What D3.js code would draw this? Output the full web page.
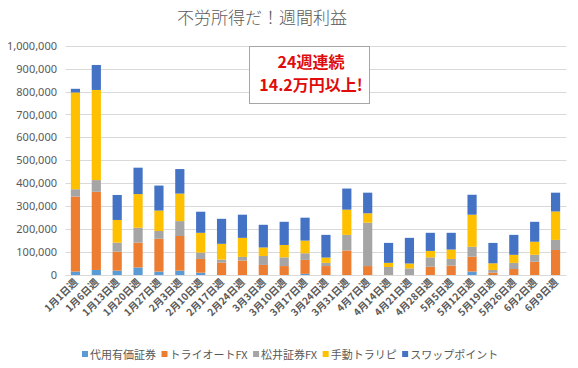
<!DOCTYPE html>
<html><head><meta charset="utf-8">
<script src="https://cdn.jsdelivr.net/npm/d3@7"></script>
<style>
body{margin:0;background:#fff;}
text{font-family:"Noto Sans CJK JP","Noto Sans",sans-serif;}
</style></head>
<body><svg id="c" width="578" height="368"></svg>
<script>
const categories = ["1月1日週","1月6日週","1月13日週","1月20日週","1月27日週","2月3日週","2月10日週","2月17日週","2月24日週","3月3日週","3月10日週","3月17日週","3月24日週","3月31日週","4月7日週","4月14日週","4月21日週","4月28日週","5月5日週","5月12日週","5月19日週","5月26日週","6月2日週","6月9日週"];
const seriesNames = ["代用有価証券","トライオートFX","松井証券FX","手動トラリピ","スワップポイント"];
const seriesColors = ["#5B9BD5","#ED7D31","#A5A5A5","#FFC000","#4472C4"];
const daiyou   = [15000,22000,19000,33000,15000,19000,10000,0,0,0,0,5000,0,0,0,0,0,0,0,15000,0,0,0,0];
const triauto  = [327000,341000,83000,108000,143000,151000,60000,54000,63000,44000,39000,61000,39000,107000,39000,0,0,36000,41000,65000,10000,26000,58000,109000];
const matsui   = [32000,51000,39000,65000,34000,65000,28000,13000,16000,39000,38000,29000,14000,68000,189000,35000,29000,41000,29000,43000,12000,27000,30000,44000];
const shudou   = [422000,393000,99000,147000,89000,120000,86000,69000,83000,37000,54000,55000,23000,110000,41000,18000,21000,28000,41000,140000,29000,35000,57000,124000];
const swap     = [16000,109000,109000,115000,109000,107000,92000,109000,101000,99000,101000,100000,99000,92000,90000,87000,112000,79000,73000,87000,89000,87000,87000,82000];
const yTicks = [0,100000,200000,300000,400000,500000,600000,700000,800000,900000,1000000];
const titleText = "不労所得だ！週間利益";
const noteLines = ["24週連続","14.2万円以上!"];

const svg = d3.select("#c");
const values = [daiyou, triauto, matsui, shudou, swap];
const rows = categories.map((c,i)=>{const r={cat:c}; seriesNames.forEach((s,k)=>r[s]=values[k][i]); return r;});
const stacked = d3.stack().keys(seriesNames)(rows);

const x = d3.scaleBand().domain(categories).range([65,566]).paddingInner(0.56).paddingOuter(0.28);
const y = d3.scaleLinear().domain([0,1000000]).range([275,45.7]);

// gridlines
svg.append("g").selectAll("line").data(yTicks).join("line")
  .attr("x1",65.5).attr("x2",566.5)
  .attr("y1",d=>Math.round(y(d))+0.5).attr("y2",d=>Math.round(y(d))+0.5)
  .attr("stroke","#d9d9d9").attr("stroke-width",1);

// y axis labels
const yAxis = d3.axisLeft(y).tickValues(yTicks).tickSize(0).tickPadding(0).tickFormat(d3.format(","));
const ga = svg.append("g").attr("transform","translate(57,0)").call(yAxis);
ga.select(".domain").remove();
ga.selectAll("text").attr("fill","#595959").style("font-size","11px").style("font-family","'Noto Sans','DejaVu Sans',sans-serif");

// bars
svg.append("g").selectAll("g").data(stacked).join("g")
  .attr("fill",(d,i)=>seriesColors[i])
  .selectAll("rect").data(d=>d).join("rect")
  .attr("x",d=>x(d.data.cat)).attr("width",x.bandwidth())
  .attr("y",d=>y(d[1])).attr("height",d=>Math.max(0,y(d[0])-y(d[1])));

// x labels
const xl = svg.append("g");
categories.forEach(c=>{
  const cx = x(c)+x.bandwidth()/2+3;
  xl.append("text").attr("transform",`translate(${cx},283) rotate(-45)`)
    .attr("text-anchor","end").attr("fill","#595959")
    .style("font-size","10px").style("font-weight","bold").text(c);
});

// title
svg.append("text").attr("x",262).attr("y",24).attr("text-anchor","middle")
  .attr("fill","#595959").style("font-size","17px").style("font-weight","300").text(titleText);

// note box
svg.append("rect").attr("x",249.5).attr("y",46.5).attr("width",120).attr("height",57)
  .attr("fill","#fff").attr("stroke","#a6a6a6").attr("stroke-width",1);
noteLines.forEach((t,i)=>{
  svg.append("text").attr("x",311).attr("y",67.5+i*23.5).attr("text-anchor","middle")
    .attr("fill","#e00b0b").style("font-size","16px").style("font-weight","bold").text(t);
});

// legend
const lg = svg.append("g");
let lx = 82;
seriesNames.forEach((s,i)=>{
  lg.append("rect").attr("x",lx).attr("y",351).attr("width",6).attr("height",6).attr("fill",seriesColors[i]);
  const t = lg.append("text").attr("x",lx+8).attr("y",358.5).attr("fill","#595959")
    .style("font-size","11px").text(s);
  lx += 8 + t.node().getComputedTextLength() + 5.5;
});
</script></body></html>
